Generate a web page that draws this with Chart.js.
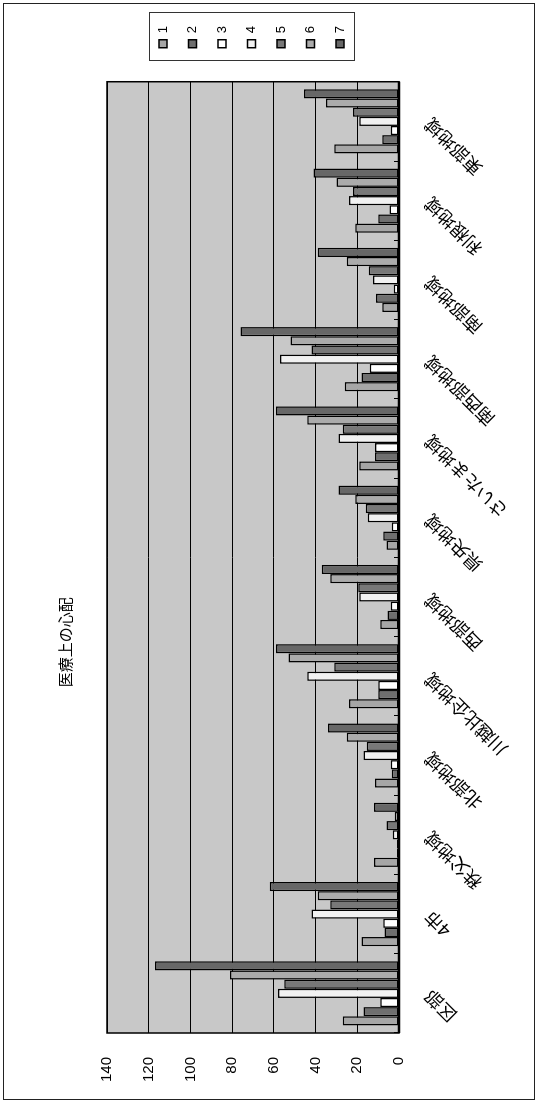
<!DOCTYPE html>
<html>
<head>
<meta charset="utf-8">
<script src="https://cdn.jsdelivr.net/npm/chart.js@4.4.1/dist/chart.umd.min.js"></script>
<style>
  html, body { margin: 0; padding: 0; background: #fff; overflow: hidden; }
  /* chart is laid out landscape, then turned a quarter to fit the tall page */
  #wrap { position: absolute; left: 0; top: 0; width: 1111px; height: 539px;
          transform-origin: 0 0; transform: translate(0, 1111px) rotate(-90deg); }
</style>
</head>
<body>
<div id="wrap"><canvas id="canvas" width="1111" height="539"></canvas></div>
<script>
const regions = ['区部', '4市', '秩父地域', '北部地域', '川越比企地域', '西部地域',
                 '県央地域', 'さいたま地域', '南西部地域', '南部地域', '利根地域', '東部地域']
const seriesNames = ['1', '2', '3', '4', '5', '6', '7']
const s1 = [27, 18, 12, 11.5, 24, 9, 6, 19, 26, 8, 21, 31]
const s2 = [17, 7, 1, 3.5, 10, 5.5, 7.5, 11.5, 18, 11, 10, 8]
const s3 = [9, 7.5, 1, 4, 10, 4, 3.5, 11.5, 14, 2.5, 4.5, 4]
const s4 = [58, 42, 3, 17, 44, 19, 15, 29, 57, 12.5, 24, 19]
const s5 = [55, 33, 6, 15.5, 31, 19.5, 16, 27, 42, 14.5, 22, 22]
const s6 = [81, 39, 2, 25, 53, 33, 21, 44, 52, 25, 30, 35]
const s7 = [117, 62, 12, 34, 59, 37, 29, 59, 76, 39, 41, 45.5]
const yMin = 0
const yMax = 140
const yStep = 20

const fills = ['#a6a6a6', '#6f6f6f', '#ffffff', '#f1f1f1', '#787878', '#ababab', '#676767']
const values = [s1, s2, s3, s4, s5, s6, s7]

const jp = '"Noto Sans CJK JP", sans-serif'
const num = '"Liberation Sans", Arial, sans-serif'

// plot fill, plot frame, legend frame and outer frame
const frame = {
  id: 'frame',
  afterLayout(chart) {
    const lg = chart.legend
    lg.left += 17.5
    lg.right += 17.5
    lg.top -= 18
    lg.bottom -= 18
    // title sits a bit left of centre
    chart.titleBlock.left -= 70
    chart.titleBlock.right -= 70
  },
  beforeDraw(chart) {
    const { ctx, chartArea: a } = chart
    ctx.save()
    ctx.fillStyle = '#c8c8c8'
    ctx.fillRect(a.left, a.top, a.right - a.left, a.bottom - a.top)
    ctx.restore()
  },
  afterDraw(chart) {
    const { ctx, chartArea: a } = chart
    ctx.save()
    ctx.strokeStyle = '#000'
    ctx.lineWidth = 1.5
    ctx.strokeRect(a.left, a.top, a.right - a.left, a.bottom - a.top)
    ctx.lineWidth = 2.5
    ctx.beginPath()
    ctx.moveTo(a.left, a.bottom)
    ctx.lineTo(a.right, a.bottom)
    ctx.stroke()

    const hb = chart.legend.legendHitBoxes
    if (hb && hb.length) {
      const l = Math.min(...hb.map(h => h.left)) - 13
      const r = Math.max(...hb.map(h => h.left + h.width)) + 13
      const t = hb[0].top - 8
      const b = hb[hb.length - 1].top + hb[hb.length - 1].height + 7
      ctx.lineWidth = 1
      ctx.strokeStyle = '#333'
      ctx.strokeRect(Math.round(l) + 0.5, Math.round(t) + 0.5, Math.round(r - l), Math.round(b - t))
    }

    ctx.strokeStyle = '#222'
    ctx.lineWidth = 1
    ctx.strokeRect(11.5, 3.5, 1096, 531)
    ctx.restore()
  }
}

const ctx = document.getElementById('canvas').getContext('2d')
new Chart(ctx, {
  type: 'bar',
  data: {
    labels: regions,
    datasets: values.map((v, i) => ({
      label: seriesNames[i],
      data: v,
      backgroundColor: fills[i],
      borderColor: '#000',
      borderWidth: 1.5,
      borderSkipped: false,
      categoryPercentage: 0.81,
      barPercentage: 1
    }))
  },
  options: {
    responsive: false,
    animation: false,
    devicePixelRatio: 1,
    layout: { padding: { left: 0, right: 33.5, top: 0, bottom: 0 } },
    plugins: {
      title: {
        display: true,
        text: '医療上の心配',
        color: '#000',
        font: { family: jp, size: 15, weight: 'normal' },
        padding: { top: 56, bottom: 33 }
      },
      legend: {
        position: 'right',
        labels: {
          color: '#000',
          font: { family: num, size: 13 },
          boxWidth: 8,
          boxHeight: 8,
          padding: 16.5
        }
      },
      tooltip: { enabled: false }
    },
    scales: {
      x: {
        grid: { display: true, drawOnChartArea: false, drawTicks: true, tickLength: -5, color: '#000' },
        border: { display: false },
        ticks: {
          color: '#000',
          font: { family: jp, size: 18 },
          minRotation: 45,
          maxRotation: 45,
          padding: 26
        },
        afterFit(scale) { scale.height = 140 }
      },
      y: {
        min: yMin,
        max: yMax,
        grid: { color: '#000', lineWidth: 1, drawTicks: false },
        border: { display: false },
        ticks: {
          stepSize: yStep,
          color: '#000',
          font: { family: num, size: 15 },
          padding: 24
        },
        afterFit(scale) { scale.width = 78 }
      }
    }
  },
  plugins: [frame]
})
</script>
</body>
</html>
